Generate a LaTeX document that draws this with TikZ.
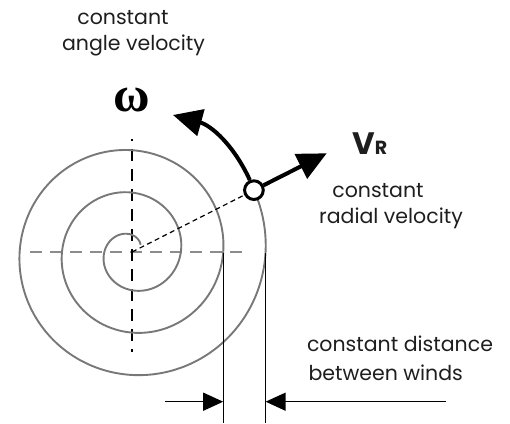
\documentclass[tikz,border=0pt]{standalone}
\usepackage{fontspec}
\setmainfont{Poppins}
\newfontfamily\greekfont{Liberation Serif}
\usetikzlibrary{arrows.meta}
\definecolor{windgray}{RGB}{120,120,120}
\definecolor{axisgray}{RGB}{140,140,140}
\definecolor{textcolor}{RGB}{30,30,30}

\begin{document}
\begin{tikzpicture}[x=1pt,y=1pt,
    label/.style={font=\fontsize{20.5}{20.5}\selectfont,text=textcolor,inner sep=0pt,anchor=base},
    thickarrow/.style={line width=4pt,-{Triangle[length=29pt,width=27pt]}},
    dimarrow/.style={line width=1.3pt,-{Triangle[length=20pt,width=18pt]}},
    bead/.style={circle,draw,line width=3pt,fill=white,minimum size=18.7pt,inner sep=0pt}]
  \useasboundingbox (0,0) rectangle (510,423);
  \def\ra{6.5}
  \def\rb{8.5}
  \def\thetaend{1106.9}
  \coordinate (centre) at (132,171);
  % axes
  \draw[axisgray,line width=1.3pt,dash pattern=on 12pt off 8pt] (30,171) -- (248,171);
  \draw[black,line width=1.5pt,dash pattern=on 12pt off 8pt,dash phase=10pt] (132,284) -- (132,71);
  % spiral
  \draw[windgray,line width=1.9pt,smooth,samples=300,domain=40:\thetaend]
    plot ({132+(\ra+\x/\rb)*cos(\x)},{171+(\ra+\x/\rb)*sin(\x)});
  % radius and bead
  \node[bead] (ring) at ({132+(\ra+\thetaend/\rb)*cos(\thetaend)},{171+(\ra+\thetaend/\rb)*sin(\thetaend)}) {};
  \draw[line width=1.2pt,dash pattern=on 5pt off 3.5pt] (centre) -- (ring);
  \coordinate (omegatip) at (173,308);
  \coordinate (vrtip) at (326.7,269.7);
  \draw[thickarrow] (ring) to[bend right=25] (omegatip);
  \draw[thickarrow] (ring) -- (vrtip);
  % distance between winds
  \coordinate (innerwind) at (223.2,170);
  \coordinate (outerwind) at (265.6,170);
  \coordinate (innerfoot) at (223.2,0);
  \coordinate (outerfoot) at (265.6,0);
  \draw[line width=1.3pt] (innerwind) -- (innerfoot);
  \draw[line width=1.3pt] (outerwind) -- (outerfoot);
  \coordinate (leftstart) at (165,21.3);
  \coordinate (rightstart) at (445.7,21.3);
  \draw[dimarrow] (leftstart) -- (innerfoot |- leftstart);
  \draw[dimarrow] (rightstart) -- (outerfoot |- rightstart);
  % labels
  \node[font=\greekfont\bfseries\fontsize{50}{50}\selectfont,inner sep=0pt] (omega) at (131.7,323) {ω};
  \node[inner sep=0pt,anchor=base west,text=textcolor] (vr) at (352,268)
    {\bfseries\fontsize{31}{31}\selectfont V\fontsize{19}{19}\selectfont R};
  \node[label] (angconst) at (123,398) {constant};
  \node[label] (angvel) at (133.5,372.3) {angle velocity};
  \node[label] (radconst) at (378,225.7) {constant};
  \node[label] (radvel) at (391,199.7) {radial velocity};
  \node[label] (distconst) at (400,71.3) {constant distance};
  \node[label] (distwinds) at (385.7,43) {between winds};
\end{tikzpicture}
\end{document}
